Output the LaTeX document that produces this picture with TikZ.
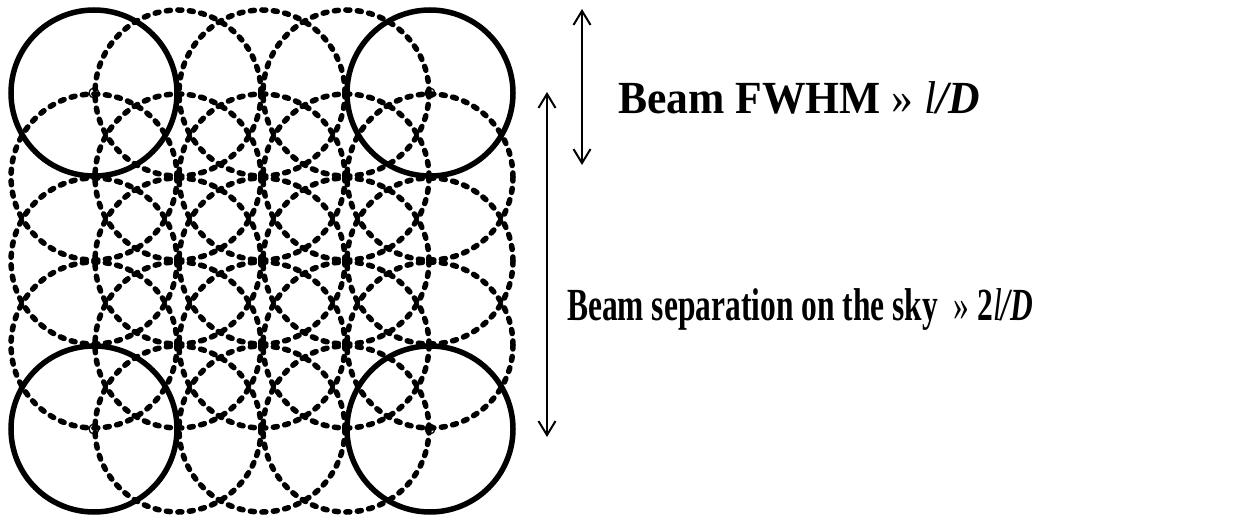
\documentclass[tikz,border=0pt]{standalone}
\usepackage{fontspec}
\usepackage{graphicx}
\setmainfont{Liberation Serif}
\usetikzlibrary{arrows.meta}
\begin{document}
\begin{tikzpicture}[x=1pt,y=-1pt,
  beamsolid/.style={draw=black,line width=5.5pt},
  beamdashed/.style={draw=black,line width=5.5pt,line cap=round,dash pattern=on 4pt off 7.5pt},
  centermark/.style={draw=black,line width=1.2pt},
  dimarrow/.style={draw=black,line width=2pt,{Straight Barb[length=14pt,width=17pt,line width=2pt]}-{Straight Barb[length=14pt,width=17pt,line width=2pt]}},
  lbl/.style={anchor=base west,inner sep=0pt,font=\fontsize{46}{52}\selectfont\bfseries}]
\useasboundingbox (0,0) rectangle (1244,521);
% dashed beams (5x5 grid minus corners)
\foreach \i in {0,...,4}{
  \foreach \j in {0,...,4}{
    \pgfmathtruncatemacro{\corner}{((\i==0)||(\i==4))&&((\j==0)||(\j==4))}
    \ifnum\corner=0
      \draw[beamdashed] ({94+84*\i},{93+84*\j}) circle[radius=83];
    \fi
  }
}
% solid corner beams
\foreach \i in {0,4}{
  \foreach \j in {0,4}{
    \draw[beamsolid] ({94+84*\i},{93+84*\j}) circle[radius=83];
    \draw[centermark] ({94+84*\i},{93+84*\j}) circle[radius=5];
  }
}
% arrows
\coordinate (fwtop) at (582,9);
\coordinate (fwbot) at (582,165);
\coordinate (septop) at (547,92);
\coordinate (sepbot) at (547,437);
\draw[dimarrow] (fwtop) -- (fwbot);
\draw[dimarrow] (septop) -- (sepbot);
% labels
\node[lbl] (fwhm) at (618,114) {\resizebox{362pt}{\height}{Beam FWHM \mdseries» \textit{l}\bfseries\textit{/D}}};
\node[lbl] (sep) at (567,320) {\resizebox{466pt}{\height}{Beam separation on the sky \ \mdseries» \bfseries 2\mdseries\textit{l}\bfseries\textit{/D}}};
\end{tikzpicture}
\end{document}
